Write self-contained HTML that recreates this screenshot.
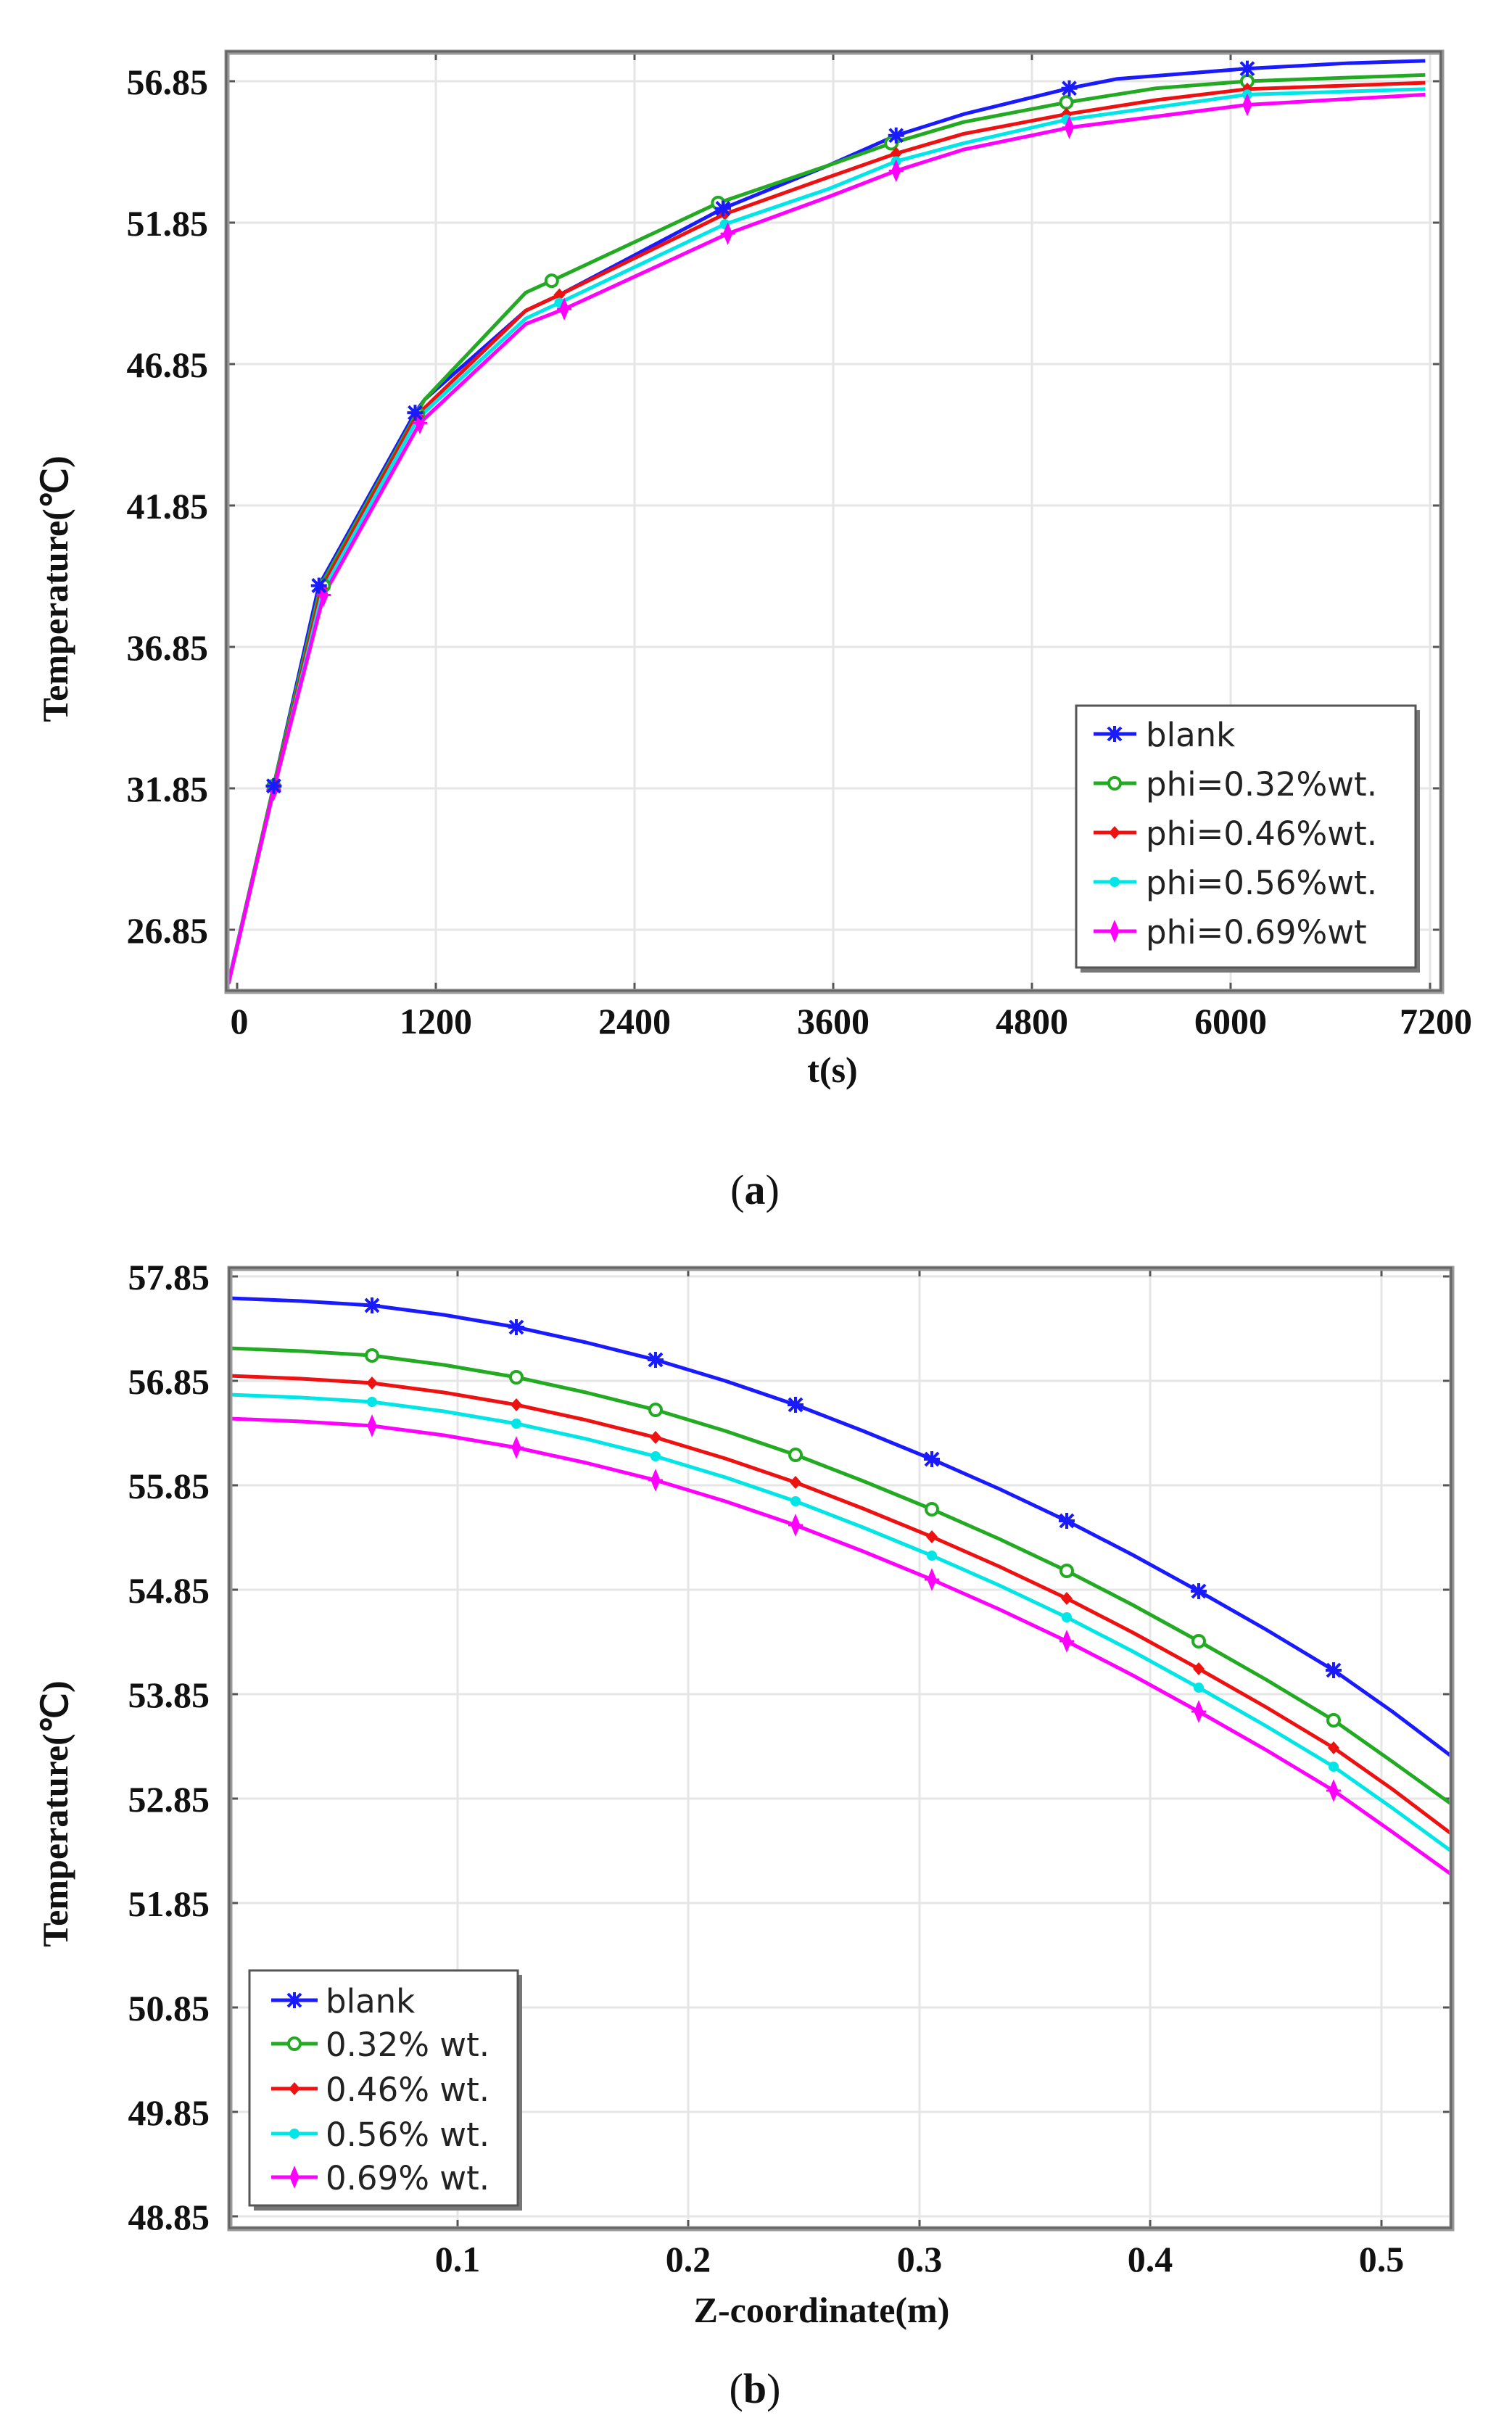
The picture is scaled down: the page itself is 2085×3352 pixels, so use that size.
<!DOCTYPE html>
<html><head><meta charset="utf-8"><style>
html,body{margin:0;padding:0;background:#fff;}
svg{display:block;}
.tk{font-family:"Liberation Serif",serif;font-weight:bold;font-size:50px;fill:#111;}
.lg{font-family:"DejaVu Sans","Liberation Sans",sans-serif;font-size:45px;fill:#222;}
.cap{font-family:"Liberation Serif",serif;font-size:58px;fill:#111;}
</style></head><body>
<svg width="2085" height="3352" viewBox="0 0 2085 3352" xmlns="http://www.w3.org/2000/svg">
<defs>
 <g id="mStar"><path d="M-9,-9L9,9M-9,9L9,-9M0,-11V11M-11,0H11" stroke="#1a1aff" stroke-width="4"/></g>
 <g id="mCirc"><circle r="8" fill="#fff" stroke="#22aa22" stroke-width="4"/></g>
 <g id="mDia"><path d="M0,-9L8,0L0,9L-8,0Z" fill="#ee1111"/></g>
 <g id="mDot"><circle r="7" fill="#00e5e5"/></g>
 <g id="mPlus"><path d="M0,-12L5,0L0,12L-5,0Z M-10,0H10" fill="#ff00ff" stroke="#ff00ff" stroke-width="3"/></g>
 <marker id="aS" markerUnits="userSpaceOnUse" markerWidth="40" markerHeight="40" refX="0" refY="0" viewBox="-20 -20 40 40" overflow="visible"><g transform="scale(0.754,0.923)"><use href="#mStar"/></g></marker>
 <marker id="aC" markerUnits="userSpaceOnUse" markerWidth="40" markerHeight="40" refX="0" refY="0" viewBox="-20 -20 40 40" overflow="visible"><g transform="scale(0.754,0.923)"><use href="#mCirc"/></g></marker>
 <marker id="aD" markerUnits="userSpaceOnUse" markerWidth="40" markerHeight="40" refX="0" refY="0" viewBox="-20 -20 40 40" overflow="visible"><g transform="scale(0.754,0.923)"><use href="#mDia"/></g></marker>
 <marker id="aT" markerUnits="userSpaceOnUse" markerWidth="40" markerHeight="40" refX="0" refY="0" viewBox="-20 -20 40 40" overflow="visible"><g transform="scale(0.754,0.923)"><use href="#mDot"/></g></marker>
 <marker id="aP" markerUnits="userSpaceOnUse" markerWidth="40" markerHeight="40" refX="0" refY="0" viewBox="-20 -20 40 40" overflow="visible"><g transform="scale(0.754,0.923)"><use href="#mPlus"/></g></marker>
 <marker id="bS" markerUnits="userSpaceOnUse" markerWidth="40" markerHeight="40" refX="0" refY="0" viewBox="-20 -20 40 40" overflow="visible"><use href="#mStar"/></marker>
 <marker id="bC" markerUnits="userSpaceOnUse" markerWidth="40" markerHeight="40" refX="0" refY="0" viewBox="-20 -20 40 40" overflow="visible"><use href="#mCirc"/></marker>
 <marker id="bD" markerUnits="userSpaceOnUse" markerWidth="40" markerHeight="40" refX="0" refY="0" viewBox="-20 -20 40 40" overflow="visible"><use href="#mDia"/></marker>
 <marker id="bT" markerUnits="userSpaceOnUse" markerWidth="40" markerHeight="40" refX="0" refY="0" viewBox="-20 -20 40 40" overflow="visible"><use href="#mDot"/></marker>
 <marker id="bP" markerUnits="userSpaceOnUse" markerWidth="40" markerHeight="40" refX="0" refY="0" viewBox="-20 -20 40 40" overflow="visible"><use href="#mPlus"/></marker>
</defs>

<!-- ============ PLOT A ============ -->
<g stroke="#e6e6e6" stroke-width="3">
 <line x1="312" y1="112" x2="1988" y2="112"/><line x1="312" y1="307" x2="1988" y2="307"/>
 <line x1="312" y1="502" x2="1988" y2="502"/><line x1="312" y1="697" x2="1988" y2="697"/>
 <line x1="312" y1="892" x2="1988" y2="892"/><line x1="312" y1="1087" x2="1988" y2="1087"/>
 <line x1="312" y1="1282" x2="1988" y2="1282"/>
 <line x1="601" y1="71" x2="601" y2="1367"/><line x1="875" y1="71" x2="875" y2="1367"/>
 <line x1="1149" y1="71" x2="1149" y2="1367"/><line x1="1423" y1="71" x2="1423" y2="1367"/>
 <line x1="1697" y1="71" x2="1697" y2="1367"/><line x1="1972" y1="71" x2="1972" y2="1367"/>
</g>
<g stroke="#555" stroke-width="3">
 <line x1="312" y1="112" x2="324" y2="112"/><line x1="312" y1="307" x2="324" y2="307"/>
 <line x1="312" y1="502" x2="324" y2="502"/><line x1="312" y1="697" x2="324" y2="697"/>
 <line x1="312" y1="892" x2="324" y2="892"/><line x1="312" y1="1087" x2="324" y2="1087"/>
 <line x1="312" y1="1282" x2="324" y2="1282"/>
 <line x1="1976" y1="112" x2="1988" y2="112"/><line x1="1976" y1="307" x2="1988" y2="307"/>
 <line x1="1976" y1="502" x2="1988" y2="502"/><line x1="1976" y1="697" x2="1988" y2="697"/>
 <line x1="1976" y1="892" x2="1988" y2="892"/><line x1="1976" y1="1087" x2="1988" y2="1087"/>
 <line x1="1976" y1="1282" x2="1988" y2="1282"/>
 <line x1="327" y1="1355" x2="327" y2="1367"/><line x1="601" y1="1355" x2="601" y2="1367"/><line x1="875" y1="1355" x2="875" y2="1367"/><line x1="1149" y1="1355" x2="1149" y2="1367"/><line x1="1423" y1="1355" x2="1423" y2="1367"/><line x1="1697" y1="1355" x2="1697" y2="1367"/><line x1="1972" y1="1355" x2="1972" y2="1367"/>
 <line x1="601" y1="71" x2="601" y2="83"/><line x1="875" y1="71" x2="875" y2="83"/><line x1="1149" y1="71" x2="1149" y2="83"/><line x1="1423" y1="71" x2="1423" y2="83"/><line x1="1697" y1="71" x2="1697" y2="83"/>
</g>

<g transform="matrix(1.3266 0 0 1.0833 2 0.4)" fill="none" stroke-width="5" stroke-linejoin="round" vector-effect="non-scaling-stroke">
 <polyline vector-effect="non-scaling-stroke" stroke="#1a1aff" stroke-width="5" points="236,1250 283,1000 330,745 430,525 440,508 545,395 580,375 750,265 860,210 930,172 1000,145 1110,112 1160,100 1295,87 1400,80 1480,77"/>
 <polyline vector-effect="non-scaling-stroke" stroke="#22aa22" stroke-width="5" points="236,1250 283,1000 332,745 432,525 440,508 545,372 572,357 745,258 860,210 925,182 1000,155 1107,130 1200,112 1295,103 1480,95"/>
 <polyline vector-effect="non-scaling-stroke" stroke="#ee1111" stroke-width="5" points="236,1250 284,1000 333,748 432,528 545,395 580,375 752,272 860,225 930,195 1000,170 1107,145 1200,127 1295,113 1480,105"/>
 <polyline vector-effect="non-scaling-stroke" stroke="#00e5e5" stroke-width="5" points="236,1250 284,1002 334,752 433,532 545,405 580,385 752,285 860,240 930,205 1000,182 1107,152 1295,120 1480,113"/>
 <polyline vector-effect="non-scaling-stroke" stroke="#ff00ff" stroke-width="5" points="236,1252 283,1005 335,757 435,538 545,412 585,393 755,297 860,250 930,217 1000,190 1110,162 1295,133 1480,120"/>
 <polyline stroke="none" marker-start="url(#aC)" marker-mid="url(#aC)" marker-end="url(#aC)" points="283,1000 335,745 433,527 572,357 745,258 925,182 1107,130 1295,103"/>
 <polyline stroke="none" marker-start="url(#aD)" marker-mid="url(#aD)" marker-end="url(#aD)" points="285,1000 333,748 433,530 580,375 752,272 930,195 1107,145 1295,113"/>
 <polyline stroke="none" marker-start="url(#aT)" marker-mid="url(#aT)" marker-end="url(#aT)" points="580,385 752,285 930,205 1107,152 1295,120"/>
 <polyline stroke="none" marker-start="url(#aP)" marker-mid="url(#aP)" marker-end="url(#aP)" points="283,1005 335,757 435,538 585,393 755,297 930,217 1110,162 1295,133"/>
 <polyline stroke="none" marker-start="url(#aS)" marker-mid="url(#aS)" marker-end="url(#aS)" points="283,1000 330,745 430,525 750,265 930,172 1110,112 1295,87"/>
</g>

<rect x="313" y="72" width="1675" height="1295" fill="none" stroke="#9a9a9a" stroke-width="7"/>
<rect x="312" y="71" width="1675" height="1295" fill="none" stroke="#666" stroke-width="3"/>

<g class="tk" text-anchor="end">
 <text x="287" y="130">56.85</text><text x="287" y="325">51.85</text><text x="287" y="520">46.85</text>
 <text x="287" y="715">41.85</text><text x="287" y="910">36.85</text><text x="287" y="1105">31.85</text>
 <text x="287" y="1300">26.85</text>
</g>
<g class="tk" text-anchor="middle">
 <text x="330" y="1425">0</text><text x="601" y="1425">1200</text><text x="875" y="1425">2400</text>
 <text x="1149" y="1425">3600</text><text x="1423" y="1425">4800</text><text x="1697" y="1425">6000</text>
 <text x="1980" y="1425">7200</text>
 <text x="1148" y="1492">t(s)</text>
</g>
<text class="tk" text-anchor="middle" font-size="46" transform="translate(93,812) rotate(-90)">Temperature(℃)</text>

<!-- legend a -->
<rect x="1490" y="979" width="468" height="362" fill="#777"/>
<rect x="1484" y="973" width="468" height="361" fill="#fff" stroke="#555" stroke-width="3"/>
<g stroke-width="5">
 <line x1="1508" y1="1012" x2="1567" y2="1012" stroke="#1a1aff"/><use href="#mStar" x="1537" y="1012"/>
 <line x1="1508" y1="1080" x2="1567" y2="1080" stroke="#22aa22"/><use href="#mCirc" x="1537" y="1080"/>
 <line x1="1508" y1="1148" x2="1567" y2="1148" stroke="#ee1111"/><use href="#mDia" x="1537" y="1148"/>
 <line x1="1508" y1="1216" x2="1567" y2="1216" stroke="#00e5e5"/><use href="#mDot" x="1537" y="1216"/>
 <line x1="1508" y1="1284" x2="1567" y2="1284" stroke="#ff00ff"/><use href="#mPlus" x="1537" y="1284"/>
</g>
<g class="lg">
 <text x="1580" y="1029">blank</text><text x="1580" y="1097">phi=0.32%wt.</text>
 <text x="1580" y="1165">phi=0.46%wt.</text><text x="1580" y="1233">phi=0.56%wt.</text>
 <text x="1580" y="1301">phi=0.69%wt</text>
</g>

<text class="cap" x="1041" y="1660" text-anchor="middle">(<tspan font-weight="bold">a</tspan>)</text>

<!-- ============ PLOT B ============ -->
<g stroke="#e6e6e6" stroke-width="3">
 <line x1="316" y1="1760" x2="2002" y2="1760"/><line x1="316" y1="1904" x2="2002" y2="1904"/>
 <line x1="316" y1="2048" x2="2002" y2="2048"/><line x1="316" y1="2192" x2="2002" y2="2192"/>
 <line x1="316" y1="2336" x2="2002" y2="2336"/><line x1="316" y1="2480" x2="2002" y2="2480"/>
 <line x1="316" y1="2624" x2="2002" y2="2624"/><line x1="316" y1="2768" x2="2002" y2="2768"/>
 <line x1="316" y1="2912" x2="2002" y2="2912"/><line x1="316" y1="3056" x2="2002" y2="3056"/>
 <line x1="631" y1="1748" x2="631" y2="3073"/><line x1="949" y1="1748" x2="949" y2="3073"/>
 <line x1="1268" y1="1748" x2="1268" y2="3073"/><line x1="1586" y1="1748" x2="1586" y2="3073"/>
 <line x1="1905" y1="1748" x2="1905" y2="3073"/>
</g>
<g stroke="#555" stroke-width="3">
 <line x1="316" y1="1760" x2="328" y2="1760"/><line x1="316" y1="1904" x2="328" y2="1904"/><line x1="316" y1="2048" x2="328" y2="2048"/><line x1="316" y1="2192" x2="328" y2="2192"/><line x1="316" y1="2336" x2="328" y2="2336"/><line x1="316" y1="2480" x2="328" y2="2480"/><line x1="316" y1="2624" x2="328" y2="2624"/><line x1="316" y1="2768" x2="328" y2="2768"/><line x1="316" y1="2912" x2="328" y2="2912"/><line x1="316" y1="3056" x2="328" y2="3056"/>
 <line x1="1990" y1="1760" x2="2002" y2="1760"/><line x1="1990" y1="1904" x2="2002" y2="1904"/><line x1="1990" y1="2048" x2="2002" y2="2048"/><line x1="1990" y1="2192" x2="2002" y2="2192"/><line x1="1990" y1="2336" x2="2002" y2="2336"/><line x1="1990" y1="2480" x2="2002" y2="2480"/><line x1="1990" y1="2624" x2="2002" y2="2624"/><line x1="1990" y1="2768" x2="2002" y2="2768"/><line x1="1990" y1="2912" x2="2002" y2="2912"/>
 <line x1="631" y1="1748" x2="631" y2="1760"/><line x1="949" y1="1748" x2="949" y2="1760"/><line x1="1268" y1="1748" x2="1268" y2="1760"/><line x1="1586" y1="1748" x2="1586" y2="1760"/><line x1="1905" y1="1748" x2="1905" y2="1760"/>
 <line x1="631" y1="3061" x2="631" y2="3073"/><line x1="949" y1="3061" x2="949" y2="3073"/><line x1="1268" y1="3061" x2="1268" y2="3073"/><line x1="1586" y1="3061" x2="1586" y2="3073"/><line x1="1905" y1="3061" x2="1905" y2="3073"/>
</g>
<g fill="none" stroke-width="5" stroke-linejoin="round">
 <polyline stroke="#1a1aff" points="316,1790 415,1794 513,1800 612,1813 712,1830 808,1851 904,1875 1000,1904 1097,1937 1190,1973 1285,2012 1378,2053 1471,2097 1562,2144 1653,2194 1746,2247 1839,2303 1920,2360 2002,2422"/>
 <polyline stroke="#22aa22" points="316,1859 415,1863 513,1869 612,1882 712,1899 808,1920 904,1944 1000,1973 1097,2006 1190,2042 1285,2081 1378,2122 1471,2166 1562,2213 1653,2263 1746,2316 1839,2372 1920,2429 2002,2488"/>
 <polyline stroke="#ee1111" points="316,1897 415,1901 513,1907 612,1920 712,1937 808,1958 904,1982 1000,2011 1097,2044 1190,2080 1285,2119 1378,2160 1471,2204 1562,2251 1653,2301 1746,2354 1839,2410 1920,2467 2002,2529"/>
 <polyline stroke="#00e5e5" points="316,1923 415,1927 513,1933 612,1946 712,1963 808,1984 904,2008 1000,2037 1097,2070 1190,2106 1285,2145 1378,2186 1471,2230 1562,2277 1653,2327 1746,2380 1839,2436 1920,2493 2002,2553"/>
 <polyline stroke="#ff00ff" points="316,1956 415,1960 513,1966 612,1979 712,1996 808,2017 904,2041 1000,2070 1097,2103 1190,2139 1285,2178 1378,2219 1471,2263 1562,2310 1653,2360 1746,2413 1839,2469 1920,2526 2002,2585"/>
 <polyline stroke="none" marker-start="url(#bS)" marker-mid="url(#bS)" marker-end="url(#bS)" points="513,1800 712,1830 904,1875 1097,1937 1285,2012 1471,2097 1653,2194 1839,2303"/>
 <polyline stroke="none" marker-start="url(#bC)" marker-mid="url(#bC)" marker-end="url(#bC)" points="513,1869 712,1899 904,1944 1097,2006 1285,2081 1471,2166 1653,2263 1839,2372"/>
 <polyline stroke="none" marker-start="url(#bD)" marker-mid="url(#bD)" marker-end="url(#bD)" points="513,1907 712,1937 904,1982 1097,2044 1285,2119 1471,2204 1653,2301 1839,2410"/>
 <polyline stroke="none" marker-start="url(#bT)" marker-mid="url(#bT)" marker-end="url(#bT)" points="513,1933 712,1963 904,2008 1097,2070 1285,2145 1471,2230 1653,2327 1839,2436"/>
 <polyline stroke="none" marker-start="url(#bP)" marker-mid="url(#bP)" marker-end="url(#bP)" points="513,1966 712,1996 904,2041 1097,2103 1285,2178 1471,2263 1653,2360 1839,2469"/>
</g>
<rect x="317" y="1749" width="1685" height="1324" fill="none" stroke="#9a9a9a" stroke-width="7"/>
<rect x="316" y="1748" width="1685" height="1324" fill="none" stroke="#666" stroke-width="3"/>

<g class="tk" text-anchor="end">
 <text x="289" y="1778">57.85</text><text x="289" y="1922">56.85</text><text x="289" y="2066">55.85</text>
 <text x="289" y="2210">54.85</text><text x="289" y="2354">53.85</text><text x="289" y="2498">52.85</text>
 <text x="289" y="2642">51.85</text><text x="289" y="2786">50.85</text><text x="289" y="2930">49.85</text>
 <text x="289" y="3074">48.85</text>
</g>
<g class="tk" text-anchor="middle">
 <text x="631" y="3132">0.1</text><text x="949" y="3132">0.2</text><text x="1268" y="3132">0.3</text>
 <text x="1586" y="3132">0.4</text><text x="1905" y="3132">0.5</text>
 <text x="1133" y="3202">Z-coordinate(m)</text>
</g>
<text class="tk" text-anchor="middle" font-size="46" transform="translate(93,2501) rotate(-90)">Temperature(℃)</text>

<!-- legend b -->
<rect x="350" y="2723" width="370" height="325" fill="#777"/>
<rect x="344" y="2717" width="370" height="324" fill="#fff" stroke="#555" stroke-width="3"/>
<g stroke-width="5">
 <line x1="374" y1="2758" x2="438" y2="2758" stroke="#1a1aff"/><use href="#mStar" x="406" y="2758"/>
 <line x1="374" y1="2818" x2="438" y2="2818" stroke="#22aa22"/><use href="#mCirc" x="406" y="2818"/>
 <line x1="374" y1="2880" x2="438" y2="2880" stroke="#ee1111"/><use href="#mDia" x="406" y="2880"/>
 <line x1="374" y1="2942" x2="438" y2="2942" stroke="#00e5e5"/><use href="#mDot" x="406" y="2942"/>
 <line x1="374" y1="3002" x2="438" y2="3002" stroke="#ff00ff"/><use href="#mPlus" x="406" y="3002"/>
</g>
<g class="lg">
 <text x="449" y="2775">blank</text><text x="449" y="2835">0.32% wt.</text>
 <text x="449" y="2897">0.46% wt.</text><text x="449" y="2959">0.56% wt.</text>
 <text x="449" y="3019">0.69% wt.</text>
</g>

<text class="cap" x="1041" y="3313" text-anchor="middle">(<tspan font-weight="bold">b</tspan>)</text>
</svg>
</body></html>
